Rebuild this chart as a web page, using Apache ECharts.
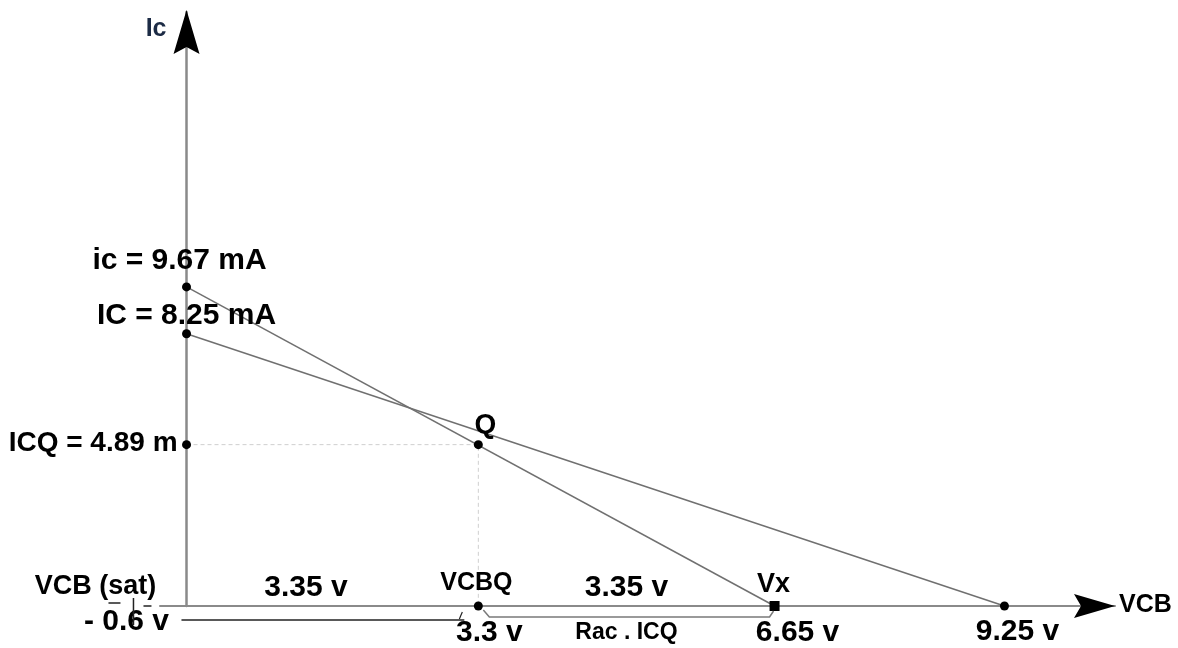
<!DOCTYPE html>
<html><head><meta charset="utf-8">
<script src="https://cdn.jsdelivr.net/npm/echarts@6/dist/echarts.min.js"></script>
<style>html,body{margin:0;padding:0;background:#fff}#c{width:1178px;height:648px}</style>
</head><body><div id="c"></div>
<script>
// ---- values (mA, V) ----
const yPointLabels = ['ic = 9.67 mA', 'IC = 8.25 mA', 'ICQ = 4.89 m'];
const yPointValues = [9.67, 8.25, 4.89];          // ic(sat, ac), IC(sat, dc), ICQ
const xPointLabels = ['3.3 v', '6.65 v', '9.25 v'];
const xPointValues = [3.3, 6.65, 9.25];           // VCBQ, Vx, VCC
const xPointNames = ['VCBQ', 'Vx', ''];
const vcbSatValue = -0.6;
const vcbSatLabels = ['VCB (sat)', '- 0.6 v'];
const swingLabels = ['3.35 v', '3.35 v'];
const racLabel = 'Rac . ICQ';
const axisNames = ['VCB', 'Ic'];

const [icAc, icDc, icq] = yPointValues;
const [vcbq, vx, vcc] = xPointValues;

const acLoadLine = [[0, icAc], [vx, 0]];
const dcLoadLine = [[0, icDc], [vcc, 0]];
const qGuide = [[0, icq], [vcbq, icq], [vcbq, 0]];

const FONT = '"Liberation Sans", Arial, sans-serif';
const TXT = '#000';
function lab(x, y, text, dx, dy, size, align) {
  return {
    value: [x, y],
    label: {
      show: true, position: 'inside', formatter: text, offset: [dx, dy],
      align: align || 'center', verticalAlign: 'middle',
      fontFamily: FONT, fontWeight: 'bold', fontSize: size || 30, color: TXT
    }
  };
}

const labelData = [
  lab(0, icAc, yPointLabels[0], -7, -26, 30),
  lab(0, icDc, yPointLabels[1], 0, -18, 30),
  lab(0, icq, yPointLabels[2], -9, -1, 28, 'right'),
  lab(vcbq, icq, 'Q', 7, -19, 28),
  lab(vcbq, 0, xPointNames[0], -2, -23, 25),
  lab(vx, 0, xPointNames[1], -1, -21, 27),
  lab(vcbq, 0, xPointLabels[0], 11, 27, 30),
  lab(vx, 0, xPointLabels[1], 23, 27, 30),
  lab(vcc, 0, xPointLabels[2], 13, 26, 30),
  lab(vcbSatValue, 0, vcbSatLabels[0], -38, -19, 27),
  lab(vcbSatValue, 0, vcbSatLabels[1], -7, 16, 30),
  lab((vcbSatValue + vcbq) / 2, 0, swingLabels[0], 0, -18, 30),
  lab((vcbq + vx) / 2, 0, swingLabels[1], 0, -18, 30),
  lab((vcbq + vx) / 2, 0, racLabel, 0, 27, 23)
];

const chart = echarts.init(document.getElementById('c'), null, {renderer: 'canvas'});
const option = {
  animation: false,
  backgroundColor: '#fff',
  grid: {left: 160, right: 63, top: 12, bottom: 42, containLabel: false},
  xAxis: {
    type: 'value', min: -0.3, max: 10.5,
    axisLine: {show: true, onZero: true, lineStyle: {color: '#8a8a8a', width: 2}},
    axisTick: {show: false}, axisLabel: {show: false}, splitLine: {show: false}
  },
  yAxis: {
    type: 'value', min: 0, max: 18,
    axisLine: {show: true, onZero: true, lineStyle: {color: '#8a8a8a', width: 2.5}},
    axisTick: {show: false}, axisLabel: {show: false}, splitLine: {show: false}
  },
  series: [
    {type: 'line', data: qGuide, symbol: 'none', z: 2,
     lineStyle: {color: '#cfcfcf', width: 1, type: [4, 3]}},
    {type: 'line', data: dcLoadLine, symbol: 'none', z: 3,
     lineStyle: {color: '#707070', width: 1.5}},
    {type: 'line', data: acLoadLine, symbol: 'none', z: 3,
     lineStyle: {color: '#707070', width: 1.5}},
    {type: 'scatter', z: 5, symbol: 'circle', symbolSize: 9,
     itemStyle: {color: '#000', opacity: 1},
     data: [[0, icAc], [0, icDc], [0, icq], [vcbq, icq], [vcbq, 0], [vcc, 0]]},
    {type: 'scatter', z: 5, symbol: 'rect', symbolSize: 10,
     itemStyle: {color: '#000', opacity: 1}, data: [[vx, 0]]},
    {type: 'scatter', z: 6, symbolSize: 0, clip: false, silent: true,
     itemStyle: {opacity: 1}, data: labelData}
  ]
};
chart.setOption(option);

// ---- arrows, axis names and dimension marks placed from data via the axes ----
const P = (x, y) => chart.convertToPixel({gridIndex: 0}, [x, y]);
const yTop = P(0, 18), xEnd = P(10.5, 0);
const pSat = P(vcbSatValue, 0), pQ = P(vcbq, 0), pVx = P(vx, 0);
const gx = yTop[0], t = yTop[1] - 2;
const ex = xEnd[0], ey = xEnd[1];
const black = {fill: '#000'};
const graphic = [
  {type: 'polygon', z: 10, shape: {points: [[gx, t], [gx + 13, t + 44], [gx, t + 37], [gx - 13, t + 44]]}, style: black},
  {type: 'polygon', z: 10, shape: {points: [[ex, ey], [ex - 41, ey - 12], [ex - 34, ey], [ex - 41, ey + 12]]}, style: black},
  {type: 'text', z: 10, style: {text: axisNames[1], x: gx - 20, y: t + 19, align: 'right', verticalAlign: 'middle',
    font: 'bold 25px ' + FONT, fill: '#1c2b45'}},
  {type: 'text', z: 10, style: {text: axisNames[0], x: ex + 4, y: ey - 1, align: 'left', verticalAlign: 'middle',
    font: 'bold 25px ' + FONT, fill: TXT}},
  // VCB(sat) tick and small marks
  {type: 'line', z: 9, shape: {x1: pSat[0], y1: pSat[1] - 8, x2: pSat[0], y2: pSat[1] + 19}, style: {stroke: '#222', lineWidth: 1.5}},
  {type: 'line', z: 9, shape: {x1: pSat[0] - 25, y1: pSat[1] - 3, x2: pSat[0] - 13, y2: pSat[1] - 3}, style: {stroke: '#222', lineWidth: 1.5}},
  {type: 'line', z: 9, shape: {x1: pSat[0] + 10, y1: pSat[1], x2: pSat[0] + 18, y2: pSat[1]}, style: {stroke: '#222', lineWidth: 1.5}},
  // dimension line from VCB(sat) label to VCBQ
  {type: 'line', z: 9, shape: {x1: pSat[0] + 48, y1: pSat[1] + 14, x2: pQ[0] - 14, y2: pQ[1] + 14}, style: {stroke: '#222', lineWidth: 1.5}},
  {type: 'line', z: 9, shape: {x1: pQ[0] - 19, y1: pQ[1] + 13, x2: pQ[0] - 16, y2: pQ[1] + 6}, style: {stroke: '#222', lineWidth: 1.2}},
  // Rac . ICQ bracket between VCBQ and Vx
  {type: 'polyline', z: 9, shape: {points: [[pQ[0] + 5, pQ[1] + 4], [pQ[0] + 11, pQ[1] + 11], [pVx[0] - 5, pVx[1] + 11], [pVx[0] - 1, pVx[1] + 5]]},
    style: {stroke: '#7a7a7a', lineWidth: 1.5, fill: null}}
];
chart.setOption({graphic: graphic});
</script>
</body></html>
